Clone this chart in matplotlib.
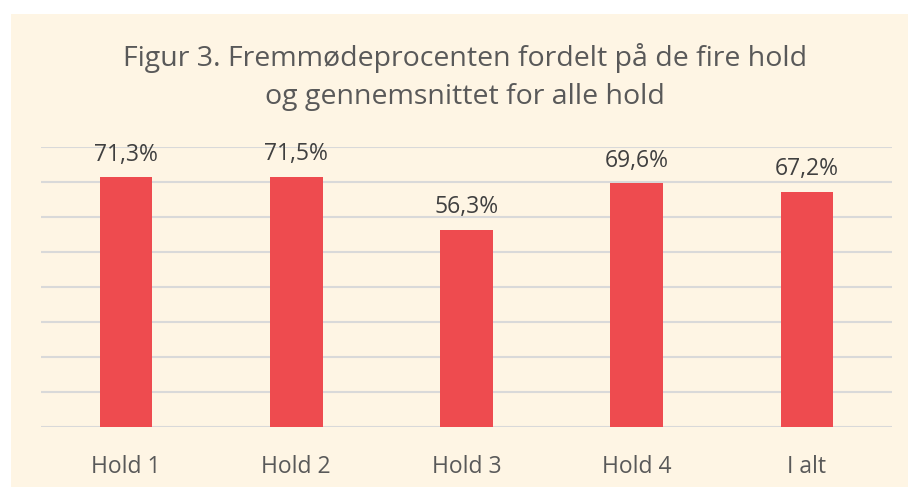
import matplotlib.pyplot as plt
from matplotlib.patches import Rectangle

categories = ["Hold 1", "Hold 2", "Hold 3", "Hold 4", "I alt"]
values = [71.3, 71.5, 56.3, 69.6, 67.2]
labels = ["71,3%", "71,5%", "56,3%", "69,6%", "67,2%"]

plt.rcParams["font.family"] = ["Open Sans", "DejaVu Sans"]

fig = plt.figure(figsize=(9.08, 4.87), dpi=100)
fig.patch.set_facecolor("white")
# cream panel behind the chart
fig.patches.append(Rectangle((11 / 908, 0), 1, 1 - 14 / 487, transform=fig.transFigure,
                             facecolor="#fef5e4", edgecolor="none", zorder=0))

ax = fig.add_axes([41 / 908, 60 / 487, 851 / 908, 280 / 487])
ax.set_facecolor("none")
ax.set_zorder(2)

x = range(len(categories))
bars = ax.bar(x, values, width=0.31, color="#ee4b4f", zorder=3)
for b, lab in zip(bars, labels):
    ax.text(b.get_x() + b.get_width() / 2, b.get_height() + 3.0, lab,
            ha="center", va="bottom", fontsize=16.5, color="#404040")

ax.set_xlim(-0.5, len(categories) - 0.5)
ax.set_ylim(0, 80)
ax.set_yticks(range(0, 81, 10))
ax.yaxis.grid(True, color="#d9d9d9", linewidth=1.5)
ax.set_yticklabels([])
ax.tick_params(axis="y", length=0)
ax.set_xticks(list(x))
ax.set_xticklabels(categories, fontsize=16.5, color="#595959")
ax.tick_params(axis="x", length=0, pad=20)
for s in ax.spines.values():
    s.set_visible(False)

fig.text(465 / 908, 1 - 77 / 487, "Figur 3. Fremmødeprocenten fordelt på de fire hold\nog gennemsnittet for alle hold",
         ha="center", va="center", fontsize=20.5, color="#595959", linespacing=1.45, zorder=3)

fig.savefig("out.png", dpi=100)
